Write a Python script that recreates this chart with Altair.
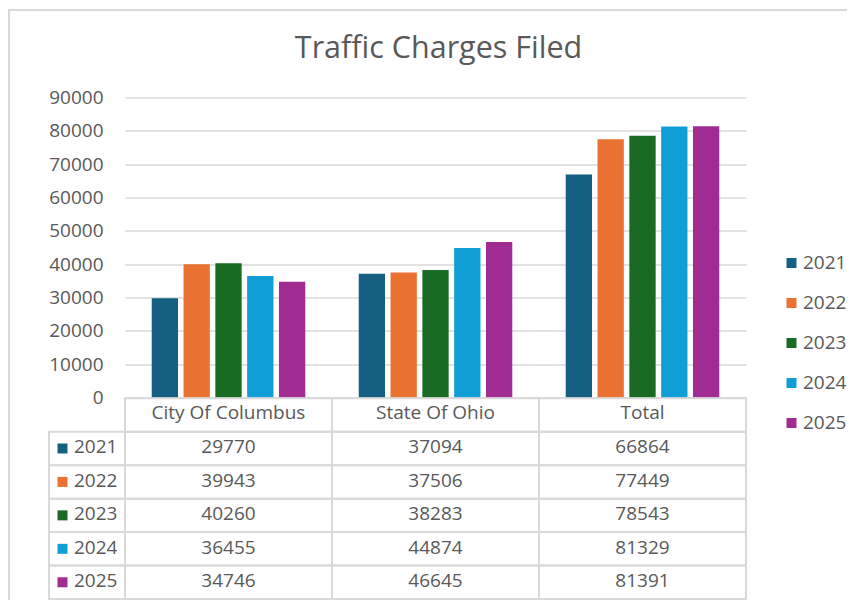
import altair as alt
import pandas as pd

# ---- data ----
title_text = "Traffic Charges Filed"
categories = ["City Of Columbus", "State Of Ohio", "Total"]
years = ["2021", "2022", "2023", "2024", "2025"]
city_of_columbus = [29770, 39943, 40260, 36455, 34746]
state_of_ohio = [37094, 37506, 38283, 44874, 46645]
total = [66864, 77449, 78543, 81329, 81391]
colors = ["#156082", "#E97132", "#196B24", "#0F9ED5", "#A02B93"]
y_ticks = [0, 10000, 20000, 30000, 40000, 50000, 60000, 70000, 80000, 90000]

series = {"City Of Columbus": city_of_columbus, "State Of Ohio": state_of_ohio, "Total": total}
rows = []
for cat in categories:
    for yr, v in zip(years, series[cat]):
        rows.append({"category": cat, "year": yr, "row": yr, "value": v, "label": str(v)})
df = pd.DataFrame(rows)

table_rows = ["header"] + years
header_df = pd.DataFrame({"category": categories, "row": ["header"] * 3, "label": categories})
cells_df = pd.DataFrame([{"category": c, "row": r} for c in categories for r in table_rows])
rowhead_df = pd.DataFrame({"row": years, "year": years, "label": years})

GRAY = "#595959"
LINE = "#d9d9d9"
FONT = "Open Sans"
FS = 19

x_enc = alt.X("category:N", sort=categories, axis=None,
              scale=alt.Scale(domain=categories, paddingInner=0, paddingOuter=0))
row_scale = alt.Scale(domain=table_rows, range=[300.8, 501.5], paddingInner=0, paddingOuter=0)
y_row = alt.Y("row:N", sort=table_rows, scale=row_scale, axis=None)
color_scale = alt.Scale(domain=years, range=colors)

frame = alt.Chart(pd.DataFrame({"k": [0]})).mark_rect(
    filled=False, stroke=LINE, strokeWidth=2
).encode(x=alt.value(-116), x2=alt.value(760), y=alt.value(-87.5), y2=alt.value(560))

title = alt.Chart(pd.DataFrame({"t": [title_text]})).mark_text(
    font=FONT, fontSize=30.5, color=GRAY, align="center", baseline="alphabetic"
).encode(x=alt.value(313.5), y=alt.value(-40), text="t:N")

bars = alt.Chart(df).mark_bar().encode(
    x=x_enc,
    xOffset=alt.XOffset("year:N", sort=years,
                        scale=alt.Scale(domain=years, paddingInner=0.173, paddingOuter=0.84)),
    y=alt.Y("value:Q", scale=alt.Scale(domain=[0, 90000], nice=False),
            axis=alt.Axis(values=y_ticks, format="d", title=None, domain=False, ticks=False,
                          labelPadding=22, labelFontSize=FS, labelFont=FONT, labelColor=GRAY,
                          gridColor=LINE, gridWidth=1.5)),
    color=alt.Color("year:N", scale=color_scale, title=None,
                    legend=alt.Legend(orient="none", legendX=657, legendY=156,
                                      symbolType="square", symbolSize=100, symbolStrokeWidth=0,
                                      labelFontSize=FS, labelFont=FONT, labelColor=GRAY,
                                      labelOffset=2, rowPadding=20, padding=0)),
)

cells = alt.Chart(cells_df).mark_rect(filled=False, stroke=LINE, strokeWidth=2).encode(
    x=x_enc, y=y_row)

rowhead_cells = alt.Chart(rowhead_df).mark_rect(filled=False, stroke=LINE, strokeWidth=2).encode(
    x=alt.value(-76), x2=alt.value(0), y=y_row)

swatches = alt.Chart(rowhead_df).mark_square(size=100, opacity=1).encode(
    x=alt.value(-62.5), y=y_row,
    color=alt.Color("year:N", scale=color_scale, legend=None))

rowhead_text = alt.Chart(rowhead_df).mark_text(
    font=FONT, fontSize=FS, color=GRAY, align="left", baseline="middle", dy=-1
).encode(x=alt.value(-51), y=y_row, text="label:N")

header_text = alt.Chart(header_df).mark_text(
    font=FONT, fontSize=FS, color=GRAY, align="center", baseline="middle", dy=-2
).encode(x=x_enc, y=y_row, text="label:N")

value_text = alt.Chart(df).mark_text(
    font=FONT, fontSize=FS, color=GRAY, align="center", baseline="middle", dy=-1
).encode(x=x_enc, y=y_row, text="label:N")

chart = alt.layer(
    frame, title, bars, cells, rowhead_cells, swatches, rowhead_text, header_text, value_text
).resolve_scale(y="independent").properties(
    width=621, height=300,
    autosize=alt.AutoSizeParams(type="none"),
    padding={"left": 117, "top": 89.5, "right": 101, "bottom": 202.5},
).configure(font=FONT).configure_view(stroke=None)

chart.save("out.html", embed_options={"renderer": "svg", "actions": False})
